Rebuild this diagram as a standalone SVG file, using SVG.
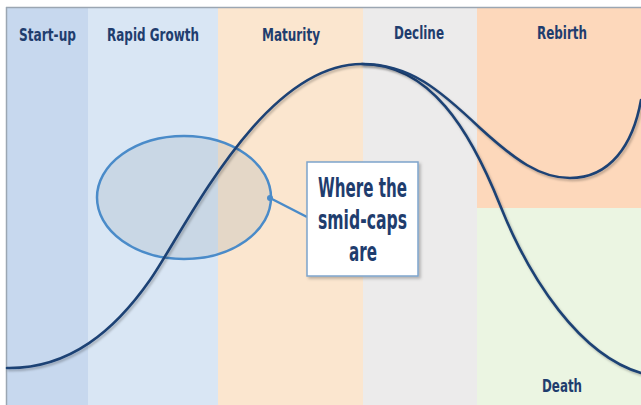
<svg xmlns="http://www.w3.org/2000/svg" width="641" height="405" viewBox="0 0 641 405">
  <defs>
    <style>
      .stage { font-family: "DejaVu Sans", "Liberation Sans", sans-serif; font-weight: bold; font-size: 18px; fill: #1f3d6e; text-anchor: middle; }
      .note { font-family: "DejaVu Sans", "Liberation Sans", sans-serif; font-weight: bold; font-size: 26px; fill: #1f3d6e; text-anchor: middle; }
      .curve { fill: none; stroke: #1f4274; stroke-width: 2.6; stroke-linecap: round; filter: url(#shadow); }
      .callout-line { fill: none; stroke: #4a8bc9; stroke-width: 2.5; }
    </style>
    <filter id="shadow" x="-5%" y="-5%" width="110%" height="115%">
      <feDropShadow dx="1.5" dy="2" stdDeviation="1.2" flood-color="#000" flood-opacity="0.25"/>
    </filter>
    <filter id="boxshadow" x="-10%" y="-10%" width="125%" height="125%">
      <feDropShadow dx="2" dy="2" stdDeviation="1.5" flood-color="#000" flood-opacity="0.25"/>
    </filter>
  </defs>

  <!-- background and frame -->
  <rect x="0" y="0" width="641" height="405" fill="#ffffff"/>

  <!-- lifecycle stage bands -->
  <g id="bands">
    <rect x="7" y="8" width="81" height="397" fill="#c7d8ee"/>
    <rect x="88" y="8" width="130" height="397" fill="#d9e6f4"/>
    <rect x="218" y="8" width="145" height="397" fill="#fbe6cf"/>
    <rect x="363" y="8" width="114" height="397" fill="#ecebeb"/>
    <rect x="477" y="8" width="164" height="200" fill="#fdd8bb"/>
    <rect x="477" y="208" width="164" height="197" fill="#ebf5e2"/>
    <line x1="6" y1="7.5" x2="641" y2="7.5" stroke="#9ba6b2" stroke-width="1.5"/>
    <line x1="6.5" y1="7" x2="6.5" y2="405" stroke="#9ba6b2" stroke-width="1.5"/>
  </g>

  <!-- stage labels -->
  <g id="label-startup"><text class="stage" x="47.5" y="41" textLength="57" lengthAdjust="spacingAndGlyphs">Start-up</text></g>
  <g id="label-rapid-growth"><text class="stage" x="153" y="41" textLength="92" lengthAdjust="spacingAndGlyphs">Rapid Growth</text></g>
  <g id="label-maturity"><text class="stage" x="291" y="41" textLength="58" lengthAdjust="spacingAndGlyphs">Maturity</text></g>
  <g id="label-decline"><text class="stage" x="419" y="39" textLength="50" lengthAdjust="spacingAndGlyphs">Decline</text></g>
  <g id="label-rebirth"><text class="stage" x="562" y="39" textLength="50" lengthAdjust="spacingAndGlyphs">Rebirth</text></g>
  <g id="label-death"><text class="stage" x="562" y="392" textLength="40" lengthAdjust="spacingAndGlyphs">Death</text></g>

  <!-- highlighted zone -->
  <g id="zone">
    <ellipse cx="184" cy="197.5" rx="87" ry="61.5" fill="#8d9aaa" fill-opacity="0.2" stroke="#4a8bc9" stroke-width="2.5"/>
  </g>

  <!-- lifecycle curves -->
  <g id="connectors">
    <path class="curve" d="M7,368 C70,369 115,330 150,280 C185,230 262,64 362,64 C430,64 470,130 500,205 C530,280 580,355 641,373"/>
    <path class="curve" d="M362,64 C410,64 440,90 480,128 C515,160 540,178 570,178 C610,178 633,145 641,100"/>
    <path class="callout-line" d="M270,198 L307,217"/>
    <circle cx="270" cy="198" r="3" fill="#4a8bc9"/>
  </g>

  <!-- callout box -->
  <g id="callout">
    <rect x="307" y="162" width="111" height="114" fill="#ffffff" stroke="#7ea4cc" stroke-width="1.5" filter="url(#boxshadow)"/>
    <text class="note" x="362.5" y="197" textLength="89" lengthAdjust="spacingAndGlyphs">Where the</text>
    <text class="note" x="362.5" y="229" textLength="89" lengthAdjust="spacingAndGlyphs">smid-caps</text>
    <text class="note" x="363" y="261" textLength="28" lengthAdjust="spacingAndGlyphs">are</text>
  </g>
</svg>
